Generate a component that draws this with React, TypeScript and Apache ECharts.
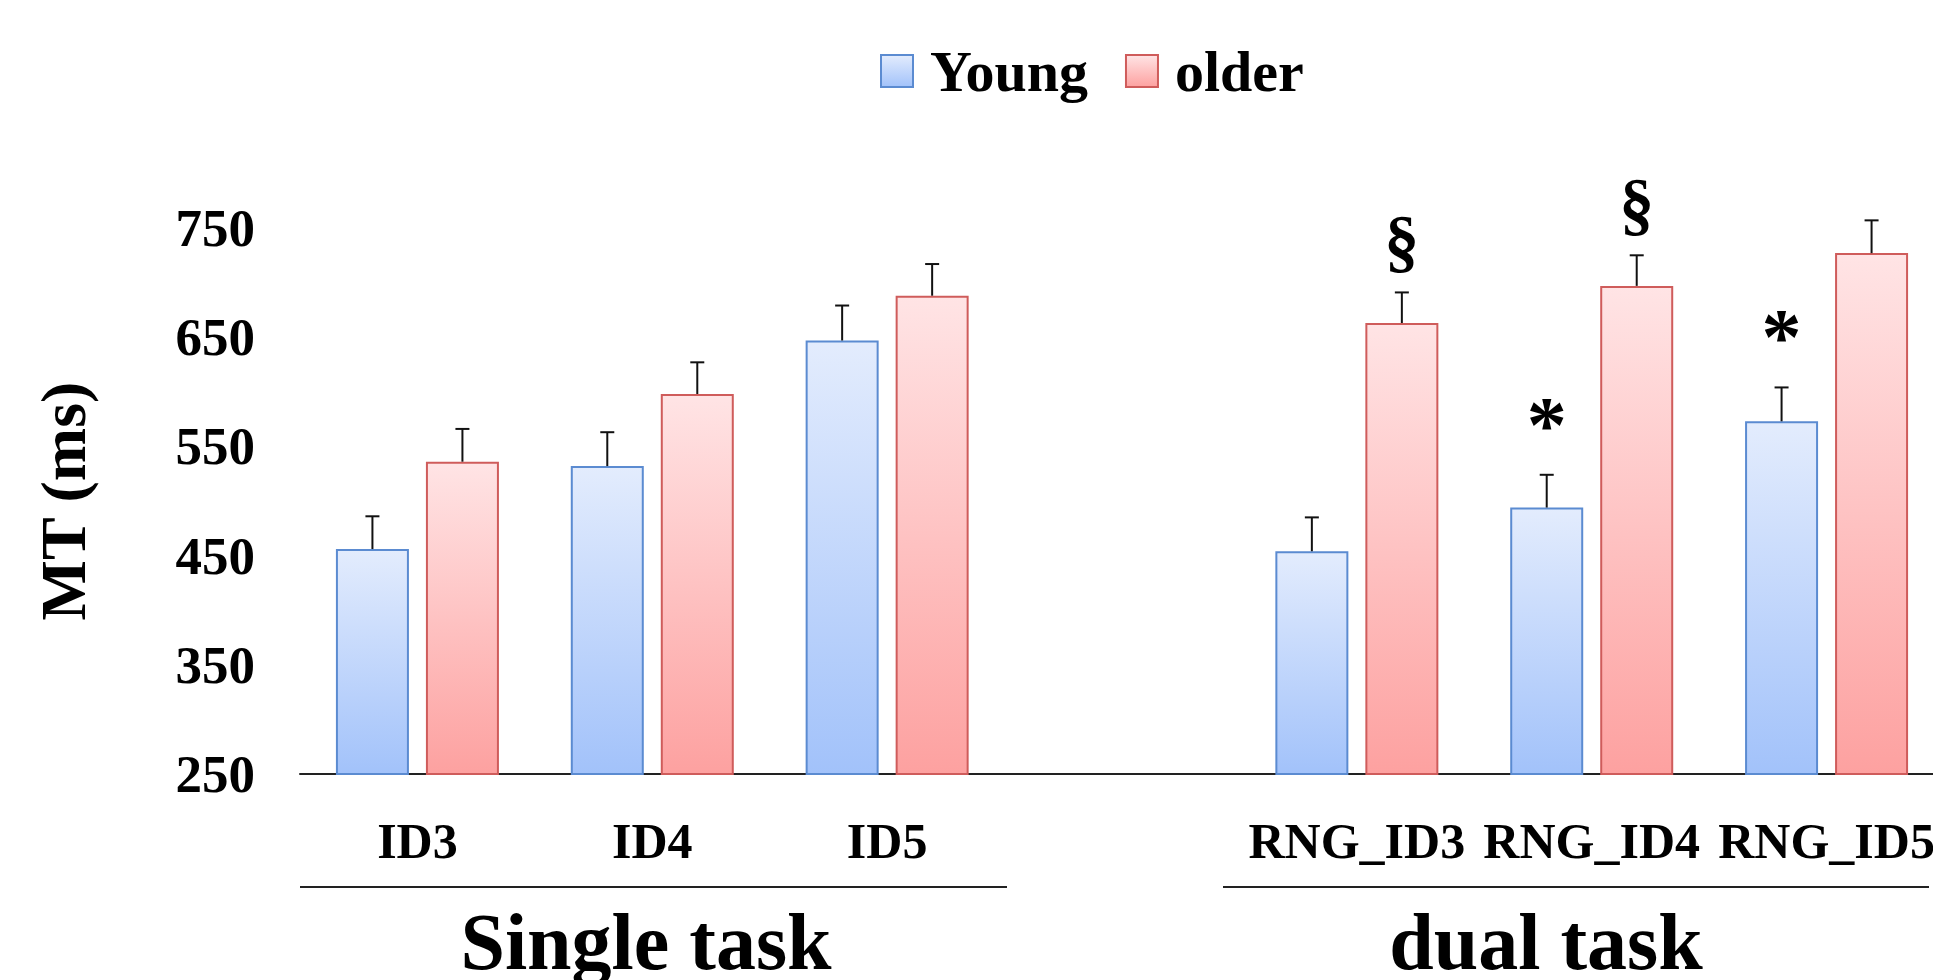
import React, { useEffect, useRef } from 'react';
import * as echarts from 'echarts';

// ---- data ----
const categories = ['ID3', 'ID4', 'ID5', '', 'RNG_ID3', 'RNG_ID4', 'RNG_ID5'];
const seriesNames = ['Young', 'older'];
const youngMT = [456, 532, 647, null, 454, 494, 573];
const olderMT = [536, 598, 688, null, 663, 697, 727];
const youngSE = [30, 31, 32, null, 31, 30, 31];
const olderSE = [30, 29, 29, null, 28, 28, 30];
const yMin = 250;
const yMax = 750;
const yStep = 100;
const yTitle = 'MT (ms)';
const groupLabels = ['Single task', 'dual task'];
// significance marks: [category index, series index (0 young, 1 older), symbol]
const sigMarks: [number, number, string][] = [
  [4, 1, '§'],
  [5, 1, '§'],
  [5, 0, '*'],
  [6, 0, '*'],
];

const FONT = "'Liberation Serif', 'Times New Roman', Times, serif";

export default function App() {
  const ref = useRef<HTMLDivElement>(null);

  useEffect(() => {
    document.body.style.margin = '0';
    if (!ref.current) return;
    const chart = echarts.init(ref.current, null, { renderer: 'svg' });

    const BAR_W = 73;
    const GAP = 17;
    const OFF = (BAR_W + GAP) / 2;

    const blueGrad = new echarts.graphic.LinearGradient(0, 0, 0, 1, [
      { offset: 0, color: '#e3ecfd' },
      { offset: 1, color: '#a2c2fa' },
    ]);
    const redGrad = new echarts.graphic.LinearGradient(0, 0, 0, 1, [
      { offset: 0, color: '#ffe4e5' },
      { offset: 1, color: '#fda1a0' },
    ]);

    const errData: number[][] = [];
    categories.forEach((_, i) => {
      if (youngMT[i] != null) errData.push([i, youngMT[i] as number, youngSE[i] as number, 0]);
      if (olderMT[i] != null) errData.push([i, olderMT[i] as number, olderSE[i] as number, 1]);
    });

    const markSymbols = ['§', '*'];
    const markData = sigMarks.map(([c, s, sym]) => {
      const v = s === 0 ? (youngMT[c] as number) + (youngSE[c] as number) : (olderMT[c] as number) + (olderSE[c] as number);
      return [c, v, s, markSymbols.indexOf(sym)];
    });

    const option: any = {
      animation: false,
      legend: {
        data: seriesNames,
        left: 875,
        top: 37,
        icon: 'rect',
        itemWidth: 32,
        itemHeight: 32,
        itemGap: 37,
        textStyle: {
          fontSize: 58,
          fontWeight: 'bold',
          fontFamily: FONT,
          color: '#000',
          padding: [0, 0, 0, 12],
        },
      },
      grid: { left: 300, right: 6, top: 228, bottom: 206, containLabel: false },
      xAxis: {
        type: 'category',
        data: categories,
        axisLine: { lineStyle: { color: '#222', width: 2 } },
        axisTick: { show: false },
        axisLabel: {
          interval: 0,
          margin: 67,
          verticalAlign: 'middle',
          fontSize: 50,
          fontWeight: 'bold',
          fontFamily: FONT,
          color: '#000',
        },
      },
      yAxis: {
        type: 'value',
        min: yMin,
        max: yMax,
        interval: yStep,
        axisLine: { show: false },
        axisTick: { show: false },
        splitLine: { show: false },
        axisLabel: {
          margin: 45,
          fontSize: 53,
          fontWeight: 'bold',
          fontFamily: FONT,
          color: '#000',
        },
        name: yTitle,
        nameLocation: 'middle',
        nameGap: 205,
        nameTextStyle: {
          fontSize: 64,
          fontWeight: 'bold',
          fontFamily: FONT,
          color: '#000',
        },
      },
      series: [
        {
          name: seriesNames[0],
          type: 'bar',
          data: youngMT,
          barWidth: BAR_W,
          barGap: (GAP / BAR_W) * 100 + '%',
          itemStyle: { color: blueGrad, borderColor: '#5b8bd1', borderWidth: 2 },
        },
        {
          name: seriesNames[1],
          type: 'bar',
          data: olderMT,
          barWidth: BAR_W,
          barGap: (GAP / BAR_W) * 100 + '%',
          itemStyle: { color: redGrad, borderColor: '#cf5c5b', borderWidth: 2 },
        },
        {
          type: 'custom',
          data: errData,
          encode: { x: 0, y: 1 },
          z: 3,
          clip: false,
          renderItem: (params: any, api: any) => {
            const cat = api.value(0);
            const val = api.value(1);
            const se = api.value(2);
            const s = api.value(3);
            const base = api.coord([cat, val]);
            const top = api.coord([cat, val + se]);
            const x = base[0] + (s === 0 ? -OFF : OFF);
            return {
              type: 'group',
              children: [
                { type: 'line', shape: { x1: x, y1: base[1], x2: x, y2: top[1] }, style: { stroke: '#111', lineWidth: 2 } },
                { type: 'line', shape: { x1: x - 7, y1: top[1], x2: x + 7, y2: top[1] }, style: { stroke: '#111', lineWidth: 2 } },
              ],
            };
          },
        },
        {
          type: 'custom',
          data: markData,
          encode: { x: 0, y: 1 },
          z: 4,
          clip: false,
          renderItem: (params: any, api: any) => {
            const cat = api.value(0);
            const v = api.value(1);
            const s = api.value(2);
            const k = api.value(3);
            const p = api.coord([cat, v]);
            const x = p[0] + (s === 0 ? -OFF : OFF);
            const isStar = k === 1;
            return {
              type: 'text',
              style: {
                text: markSymbols[k],
                x,
                y: p[1] - (isStar ? 50 : 52),
                fill: '#000',
                fontSize: isStar ? 80 : 70,
                fontWeight: 'bold',
                fontFamily: FONT,
                align: 'center',
                verticalAlign: 'middle',
              },
            };
          },
        },
      ],
      graphic: [
        { type: 'line', shape: { x1: 300, y1: 887, x2: 1007, y2: 887 }, style: { stroke: '#222', lineWidth: 2 } },
        { type: 'line', shape: { x1: 1223, y1: 887, x2: 1929, y2: 887 }, style: { stroke: '#222', lineWidth: 2 } },
        {
          type: 'text',
          x: 646,
          y: 942,
          style: { text: groupLabels[0], fill: '#000', fontSize: 80, fontWeight: 'bold', fontFamily: FONT, align: 'center', verticalAlign: 'middle' },
        },
        {
          type: 'text',
          x: 1546,
          y: 942,
          style: { text: groupLabels[1], fill: '#000', fontSize: 80, fontWeight: 'bold', fontFamily: FONT, align: 'center', verticalAlign: 'middle' },
        },
      ],
    };

    chart.setOption(option);
    return () => chart.dispose();
  }, []);

  return (
    <div style={{ position: 'fixed', left: 0, top: 0, width: 1933, height: 980, overflow: 'hidden', background: '#fff' }}>
      <div ref={ref} style={{ width: 1950, height: 980 }} />
    </div>
  );
}
